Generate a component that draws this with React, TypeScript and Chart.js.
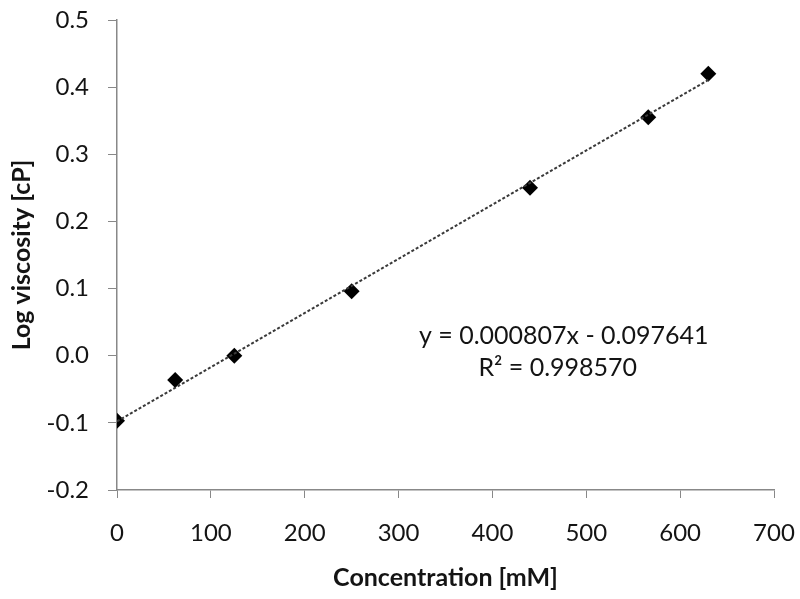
import React, { useEffect, useRef } from "react";
import { Chart, registerables } from "chart.js";

Chart.register(...registerables);

const concentration = [0, 62, 125, 250, 440, 566, 630];
const logViscosity = [-0.097, -0.036, 0.0, 0.096, 0.25, 0.355, 0.42];
const slope = 0.000807;
const intercept = -0.097641;
const equationLines = ["y = 0.000807x - 0.097641", "R\u00B2 = 0.998570"];
const xTitle = "Concentration [mM]";
const yTitle = "Log viscosity [cP]";

const FONT = "Lato, 'Open Sans', sans-serif";
const TEXT = "#141414";
const AXIS = "#888888";

const equationPlugin = {
  id: "equationText",
  afterDraw(chart: any) {
    const { ctx, scales } = chart;
    const cx = scales.x.getPixelForValue(476);
    const cy = scales.y.getPixelForValue(0.03);
    ctx.save();
    ctx.fillStyle = TEXT;
    ctx.font = `25px ${FONT}`;
    ctx.textAlign = "center";
    ctx.textBaseline = "middle";
    ctx.fillText(equationLines[0], cx, cy);
    ctx.fillText(equationLines[1], cx - 6, cy + 32);
    ctx.restore();
  },
};

export default function App() {
  const ref = useRef<HTMLCanvasElement>(null);
  useEffect(() => {
    document.body.style.margin = "0";
    const xMin = concentration[0];
    const xMax = concentration[concentration.length - 1];
    const chart = new Chart(ref.current!, {
      type: "scatter",
      data: {
        datasets: [
          {
            type: "line",
            data: [
              { x: xMin, y: slope * xMin + intercept },
              { x: xMax, y: slope * xMax + intercept },
            ],
            borderColor: "#3a3a3a",
            borderWidth: 2,
            borderDash: [3, 2],
            pointRadius: 0,
            fill: false,
          } as any,
          {
            data: concentration.map((x, i) => ({ x, y: logViscosity[i] })),
            pointStyle: "rectRot",
            pointRadius: 8,
            backgroundColor: "#000",
            borderColor: "#000",
            borderWidth: 0,
          },
        ],
      },
      options: {
        animation: false,
        responsive: false,
        maintainAspectRatio: false,
        layout: { padding: { top: 20, right: 26, left: 0, bottom: 0 } },
        plugins: { legend: { display: false }, tooltip: { enabled: false } },
        scales: {
          x: {
            type: "linear",
            min: 0,
            max: 700,
            ticks: {
              stepSize: 100,
              color: TEXT,
              font: { family: FONT, size: 24 },
              padding: 21,
            },
            grid: { drawOnChartArea: false, tickLength: 8, color: AXIS },
            border: { color: AXIS, width: 1.5 },
            title: {
              display: true,
              text: xTitle,
              color: TEXT,
              font: { family: FONT, size: 25, weight: "bold" },
              padding: { top: 0, bottom: 6 },
            },
            afterFit: (s: any) => {
              s.height = 109;
              s.paddingLeft = 0;
              s.paddingRight = 0;
            },
          },
          y: {
            min: -0.2,
            max: 0.5,
            ticks: {
              stepSize: 0.1,
              color: TEXT,
              font: { family: FONT, size: 24 },
              padding: 19,
              callback: (v: any) => (Math.abs(Number(v)) < 1e-9 ? "0.0" : Number(v).toFixed(1)),
            },
            grid: { drawOnChartArea: false, tickLength: 9, color: AXIS },
            border: { color: AXIS, width: 1.5 },
            title: {
              display: true,
              text: yTitle,
              color: TEXT,
              font: { family: FONT, size: 25, weight: "bold" },
              padding: { top: 7, bottom: 0 },
            },
            afterFit: (s: any) => {
              s.width = 117;
              s.paddingTop = 0;
              s.paddingBottom = 0;
            },
          },
        },
      },
      plugins: [equationPlugin],
    });
    return () => chart.destroy();
  }, []);
  return (
    <div style={{ width: 800, height: 599 }}>
      <canvas ref={ref} width={800} height={599} />
    </div>
  );
}
